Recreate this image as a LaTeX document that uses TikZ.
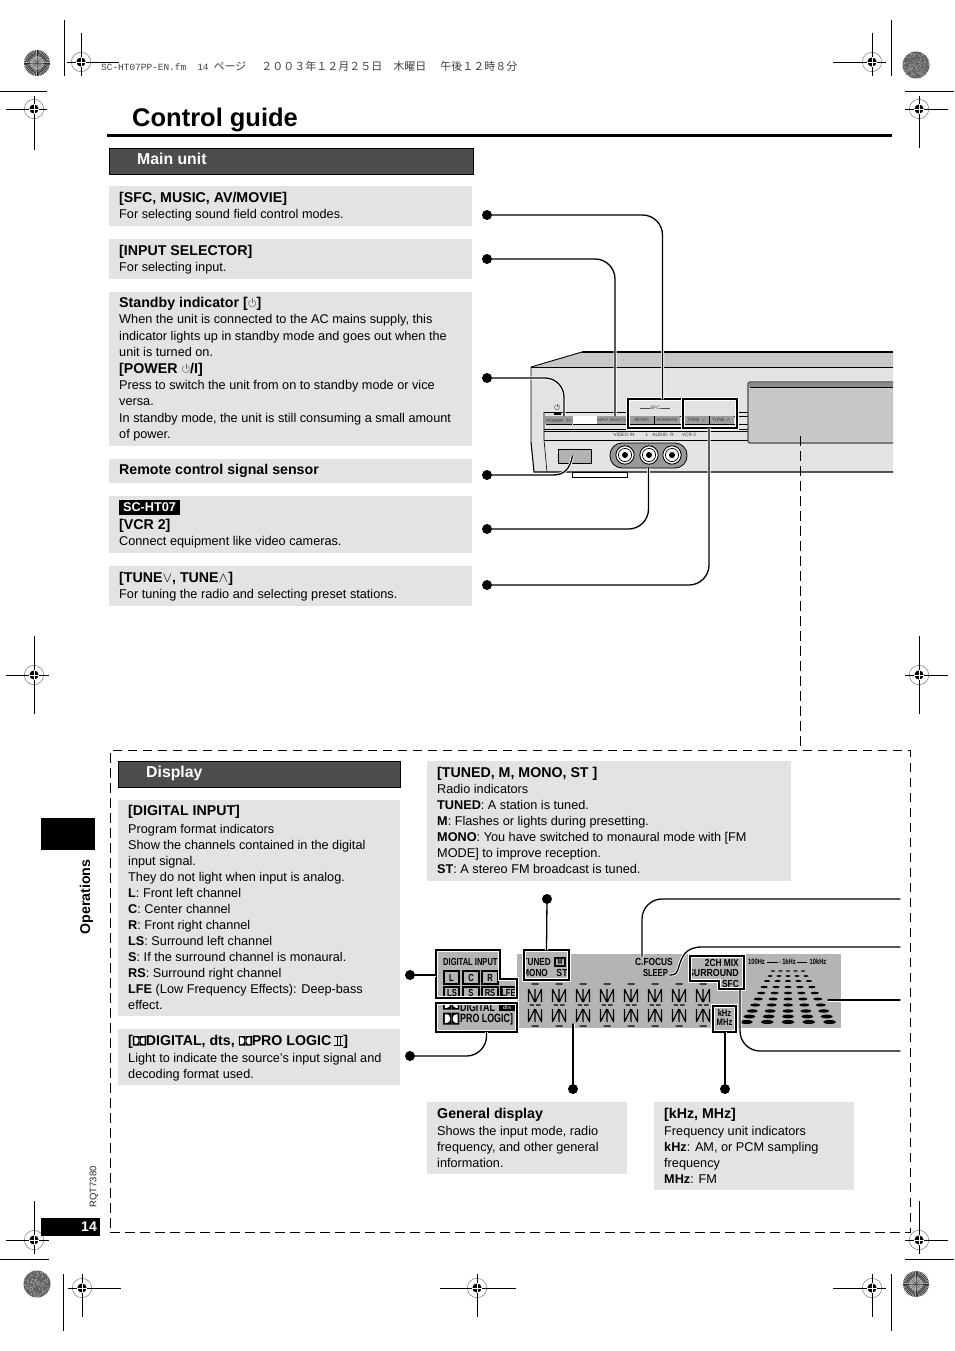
\documentclass[tikz,border=0pt]{standalone}
\usepackage{graphicx}
\usepackage{fontspec}
\setmainfont{Liberation Sans}
\newfontfamily\cjkf{Noto Sans CJK JP}
\newfontfamily\monof{Liberation Mono}
\usetikzlibrary{calc}
\definecolor{pan}{HTML}{E3E3E3}
\definecolor{hdr}{HTML}{4D4D4D}
\definecolor{lcd}{HTML}{B4B4B4}
\definecolor{dev}{HTML}{C8C8C8}
\newcommand\hd[1]{{\fontsize{14.2}{16}\selectfont\bfseries #1}}
\newcommand\cond[2][.74]{\scalebox{#1}[1]{\bfseries #2}}
\newcommand\pwr[1][1]{\begin{tikzpicture}[x=#1pt,y=#1pt,baseline=0pt]
  \draw[black!60,line width=.5pt] (3,7.2) arc[start angle=120,end angle=420,radius=3.6];
  \draw[black!60,line width=.5pt] (4.8,4) -- (4.8,9);
  \end{tikzpicture}}
\newcommand\dolby[1]{\begin{tikzpicture}[x=#1pt,y=#1pt,baseline=0pt]
  \fill[black] (0,0) rectangle (6.3,9.5) (6.8,0) rectangle (13,9.5);
  \fill[white] (1.4,1.3) -- (3,1.3) arc[start angle=-90,end angle=90,x radius=2.6,y radius=3.45] -- (1.4,8.2) -- cycle;
  \fill[white] (11.6,1.3) -- (10.2,1.3) arc[start angle=-90,end angle=-270,x radius=2.6,y radius=3.45] -- (11.6,8.2) -- cycle;
  \end{tikzpicture}}
\newcommand\twoii{\begin{tikzpicture}[x=1pt,y=1pt,baseline=0pt]
  \draw[line width=.5pt] (0,0) -- (9,0) (0,9) -- (9,9) (2.8,0) -- (2.8,9) (6.2,0) -- (6.2,9);
  \end{tikzpicture}}
\newcommand\mybox[6][]{\node[rbox,#1,minimum width={(#5)-(#3)},minimum height={(#6)-(#4)}] (#2) at ({((#3)+(#5))/2},{((#4)+(#6))/2}) {};}
\newcommand\regmark[6]{%
  \draw[black!55,line width=.5pt] (#1,#2) circle[radius=9.7];
  \fill[black] (#1,#2) circle[radius=4.6];
  \draw[black,line width=.9pt] (#3,#2) -- (#4,#2) (#1,#5) -- (#1,#6);
  \draw[white,line width=.6pt] ({#1-4.6},#2) -- ({#1+4.6},#2) (#1,{#2-4.6}) -- (#1,{#2+4.6});
}
\newcommand\burst[3]{%
  \fill[black!30] (#1,#2) circle[radius=#3];
  \foreach \a in {0,7.5,...,352.5} {\draw[black!85,line width=.55pt] ($(#1,#2)+(\a:7)$) -- ($(#1,#2)+(\a:#3)$);}
  \foreach \a in {0,22.5,...,337.5} {\draw[black!60,line width=.4pt] ($(#1,#2)+(\a:1)$) -- ($(#1,#2)+(\a:7)$);}
  \fill[black] (#1,#2) circle[radius=.8];
}
\newcommand\speck[3]{%
  \fill[black!62] (#1,#2) circle[radius=#3];
  \foreach \i in {1,...,170} {\pgfmathsetmacro\rr{(#3-.8)*sqrt(rnd)}\pgfmathsetmacro\tt{360*rnd}\fill[black!35] ($(#1,#2)+(\tt:\rr)$) circle[radius=.55];}
}
\newcommand\segdigit[1]{%
  \draw[black,line width=1.1pt] ({#1-3.5},984) -- ({#1+3.5},984)
    ({#1-6.5},989) -- ({#1-6.5},1002) ({#1-6.5},989) -- ({#1-.3},1002) ({#1},989) -- ({#1},1002) ({#1+6.5},989) -- ({#1+.3},1002) ({#1+6.5},989) -- ({#1+6.5},1002)
    ({#1-5.5},1005) -- ({#1-1},1005) ({#1+1},1005) -- ({#1+5.5},1005)
    ({#1-6.5},1009) -- ({#1-6.5},1022) ({#1-.3},1009) -- ({#1-6.5},1022) ({#1},1009) -- ({#1},1022) ({#1+.3},1009) -- ({#1+6.5},1022) ({#1+6.5},1009) -- ({#1+6.5},1022)
    ({#1-3.5},1026) -- ({#1+3.5},1026);
}
\tikzset{
  rbox/.style={inner sep=0pt,outer sep=0pt,rectangle},
  txt/.style={anchor=north west,inner sep=0pt,align=left,font=\fontsize{12.7}{16}\selectfont,execute at begin node={\rule{0pt}{12pt}}},
  ptxt/.style={txt,font=\fontsize{12.7}{16.4}\selectfont},
  panel/.style={fill=pan},
  hdrbar/.style={fill=hdr,draw=black,line width=.8pt},
  hdrt/.style={inner sep=0pt,anchor=west,text=white,font=\fontsize{15.8}{18}\selectfont\bfseries},
  dotn/.style={circle,fill=black,inner sep=0pt,minimum size=10pt},
  conn/.style={draw=black,line width=1.3pt,line cap=round,preaction={draw=white,line width=3pt}},
  hbox/.style={draw=black,line width=1.4pt,preaction={draw=white,line width=3.2pt}},
  devt/.style={inner sep=0pt,text=black!80,font=\fontsize{4.8}{5}\selectfont},
  btn/.style={fill=black!38,draw=none},
  lcdt/.style={inner sep=0pt,font=\fontsize{10.2}{11}\selectfont},
  cellbox/.style={draw=black,line width=1.6pt,fill=lcd}
}
\begin{document}
\begin{tikzpicture}[x=1pt,y=-1pt]
\useasboundingbox (0,0) rectangle (954,1351);
\fill[white] (0,0) rectangle (954,1351);

% crop marks
\draw[black,line width=.9pt] (64,20) -- (64,76) (891,20) -- (891,76)
  (0,91) -- (47,91) (905,91) -- (954,91)
  (0,1259) -- (49,1259) (905,1259) -- (954,1259)
  (63,1274) -- (63,1331) (891,1274) -- (891,1331);
\regmark{81}{62}{67}{119}{33}{76}
\regmark{872}{62}{833}{886}{33}{76}
\regmark{34}{109}{6}{47}{96}{150}
\regmark{919}{109}{905}{948}{96}{148}
\regmark{34}{675}{6}{49}{636}{714}
\regmark{919}{675}{905}{948}{636}{714}
\regmark{34}{1240}{6}{49}{1201}{1254}
\regmark{919}{1240}{905}{948}{1201}{1254}
\regmark{82}{1288}{68}{121}{1274}{1317}
\regmark{477}{1288}{440}{516}{1274}{1317}
\regmark{872}{1288}{833}{886}{1274}{1317}
\pgfmathsetseed{42}
\burst{37}{63}{13}
\speck{916}{65}{13.5}
\speck{37}{1284}{13.5}
\burst{916}{1284}{13}

% running header
\node[inner sep=0pt,anchor=base west,text=black!75] (runhead) at (101,71) {\fontsize{9.45}{11}\selectfont\monof SC-HT07PP-EN.fm\hspace{11pt}14\hspace{5pt}\fontsize{11}{11}\selectfont\cjkf ページ\hspace{15pt}２００３年１２月２５日\hspace{11pt}木曜日\hspace{14pt}午後１２時８分};

% title
\node[inner sep=0pt,anchor=base west,font=\fontsize{25.5}{28}\selectfont\bfseries] (title) at (132,127) {Control guide};
\draw[black,line width=3pt] (107,136) -- (892,136);

% Main unit column
\mybox[hdrbar]{mainbar}{109}{148}{473}{174}
\node[hdrt] (mainlab) at (137,158.5) {Main unit};
\mybox[panel]{b1}{109}{186}{472}{226}
\mybox[panel]{b2}{109}{239}{472}{279}
\mybox[panel]{b3}{109}{292}{472}{446}
\mybox[panel]{b4}{109}{459}{472}{483}
\mybox[panel]{b5}{109}{496}{472}{553}
\mybox[panel]{b6}{109}{566}{472}{606}
\node[txt] (t1) at (119,192) {\hd{[SFC, MUSIC, AV/MOVIE]}\\For selecting sound field control modes.};
\node[txt] (t2) at (119,245) {\hd{[INPUT SELECTOR]}\\For selecting input.};
\node[ptxt] (t3) at (119,297) {\hd{Standby indicator [\pwr]}\\When the unit is connected to the AC mains supply, this\\indicator lights up in standby mode and goes out when the\\unit is turned on.\\\hd{[POWER \pwr/I]}\\Press to switch the unit from on to standby mode or vice\\versa.\\In standby mode, the unit is still consuming a small amount\\of power.};
\node[txt] (t4) at (119,462) {\hd{Remote control signal sensor}};
\node[rbox,fill=black,text=white,font=\fontsize{12.7}{14}\selectfont\bfseries,minimum width=61pt,minimum height=15pt] (sc) at (149.5,507.5) {SC-HT07};
\node[txt] (t5) at (119,519) {\hd{[VCR 2]}\\Connect equipment like video cameras.};
\node[txt] (t6) at (119,572) {\hd{[TUNE$\vee$, TUNE$\wedge$]}\\For tuning the radio and selecting preset stations.};

% device
\begin{scope}
\clip (520,345) rectangle (893,480);
\fill[pan] (531,367) -- (893,367) -- (893,472) -- (534,472) -- (531,442) -- cycle;
\fill[dev] (531,367) -- (582,352) -- (893,352) -- (893,367) -- cycle;
\mybox[fill=white,draw=black,line width=.8pt]{foot}{572}{472}{627}{477}
\draw[black,line width=.9pt] (531,442) -- (531,367) -- (582,352);
\draw[black,line width=1.6pt] (582,352) -- (893,352);
\draw[black,line width=.8pt] (531,367) -- (893,367);
\draw[black,line width=1.1pt] (531,442) -- (534,472) -- (893,472);
\draw[black,line width=.6pt] (544,412) -- (544,440) -- (547,472);
\draw[black,line width=.6pt] (544,412) -- (628,412) (737,412) -- (748,412)
  (544,429) -- (748,429) (544,431) -- (748,431) (544,440) -- (748,440);
\draw[black,line width=.6pt] (573,416) -- (748,416) (573,424) -- (748,424);
\fill[white] (573,416.3) rectangle (600,423.7);
\fill[black] (554,412) rectangle (561,415);
\node[inner sep=0pt] (stbysym) at (557,407) {\pwr[.7]};
\node[rbox,btn,minimum width=28pt,minimum height=8pt,text=black!80,font=\fontsize{4.6}{5}\selectfont] (pwrbtn) at (559,420) {POWER \pwr[.45]/I};
\draw[black,line width=.6pt,rounded corners=1.5pt] (546,424.5) -- (572,424.5);
\node[rbox,btn,minimum width=27pt,minimum height=8pt,text=black!80,font=\fontsize{3.8}{5}\selectfont] (inbtn) at (613.5,420) {INPUT SELECTOR};
\node[rbox,btn,minimum width=24pt,minimum height=8pt,text=black!80,font=\fontsize{4.6}{5}\selectfont] (mus) at (642,420) {MUSIC};
\node[rbox,btn,minimum width=26pt,minimum height=8pt,text=black!80,font=\fontsize{4.4}{5}\selectfont] (avm) at (667,420) {AV/MOVIE};
\node[rbox,btn,minimum width=25pt,minimum height=8pt,text=black!80,font=\fontsize{4.6}{5}\selectfont] (tdn) at (696.5,420) {TUNE $\vee$};
\node[rbox,btn,minimum width=25pt,minimum height=8pt,text=black!80,font=\fontsize{4.6}{5}\selectfont] (tup) at (721.5,420) {TUNE $\wedge$};
\draw[black,line width=.6pt] (654,416) -- (654,424) (709,416) -- (709,424);
\node[devt] (sfclab) at (655,408) {SFC};
\draw[black!70,line width=.5pt] (640,408) -- (650,408) (660,408) -- (670,408);
\node[devt] (l1) at (624,435) {VIDEO IN};
\node[devt] (l2) at (647,435) {L};
\node[devt] (l3) at (660,435) {AUDIO};
\node[devt] (l4) at (672,435) {R};
\node[devt] (l5) at (689,435) {VCR 2};
\node[rbox,fill=black!30,draw=black,line width=.7pt,minimum width=33pt,minimum height=14pt] (sens) at (574.5,456) {};
\node[rbox,fill=black!40,draw=black,line width=.8pt,rounded corners=12pt,minimum width=77pt,minimum height=25pt] (pill) at (648.5,455.5) {};
\foreach \cx in {625,649,672}{
  \fill[white] (\cx,455) circle[radius=9.4];
  \draw[black,line width=.9pt] (\cx,455) circle[radius=9.2];
  \draw[black,line width=.7pt] (\cx,455) circle[radius=6.6];
  \fill[black] (\cx,455) circle[radius=3];
}
% display window
\node[rbox,fill=dev,draw=black!70,line width=1.2pt,rounded corners=2pt,minimum width=170pt,minimum height=61pt,anchor=west] (disp) at (748,412.5) {};
\fill[black!45] (749,383) rectangle (893,387);
\draw[black,line width=.7pt] (750,387) -- (893,387);
% button groups
\mybox[hbox]{sfc}{628}{399}{683}{428}
\mybox[hbox]{tune}{683}{399}{737}{428}
\end{scope}

% top connectors
\node[dotn] (d1) at (487,215) {};
\node[dotn] (d2) at (487,259) {};
\node[dotn] (d3) at (487,378) {};
\node[dotn] (d4) at (487,475) {};
\node[dotn] (d5) at (487,529) {};
\node[dotn] (d6) at (487,585) {};
\draw[conn,rounded corners=20pt] (d1) -| ([xshift=7pt]sfc.north);
\draw[conn,rounded corners=20pt] (d2) -| ([xshift=1.5pt]inbtn.north);
\draw[conn,rounded corners=19pt] (d3) -| ([xshift=5pt]pwrbtn.north);
\draw[conn] (d4) -- (553,475) .. controls (565,475) and (570,468) .. ([xshift=-2pt]sens.center);
\draw[conn,rounded corners=20pt] (d5) -| (pill.south);
\draw[conn,rounded corners=20pt] (d6) -| ([xshift=-1pt]tune.south);

% display frame
\coordinate (dashtop) at (800,436);
\mybox[draw=black,line width=.9pt,dash pattern=on 9.5pt off 5.5pt]{frame}{110}{750}{910}{1232}
\draw[black,line width=.9pt,dash pattern=on 9.5pt off 5.5pt] (dashtop) -- (dashtop |- frame.north);

% lower-left column
\mybox[hdrbar]{dispbar}{118}{761}{400}{787}
\node[hdrt] (displab) at (146,773) {Display};
\mybox[panel]{b7}{118}{800}{400}{1016}
\mybox[panel]{b8}{118}{1029}{400}{1085}
\mybox[panel]{b9}{427}{761}{791}{881}
\mybox[panel]{b10}{427}{1102}{627}{1174}
\mybox[panel]{b11}{654}{1102}{854}{1190}
\node[txt] (t7) at (128,805) {\hd{[DIGITAL INPUT]}\\[1.5pt]Program format indicators\\Show the channels contained in the digital\\input signal.\\They do not light when input is analog.\\\textbf{L}: Front left channel\\\textbf{C}: Center channel\\\textbf{R}: Front right channel\\\textbf{LS}: Surround left channel\\\textbf{S}: If the surround channel is monaural.\\\textbf{RS}: Surround right channel\\\textbf{LFE} (Low Frequency Effects): Deep-bass\\effect.};
\node[txt] (t8) at (128,1035) {\hd{[\dolby{1}DIGITAL, dts, \dolby{1}PRO LOGIC\,\twoii]}\\[1pt]Light to indicate the source’s input signal and\\decoding format used.};
\node[txt] (t9) at (437,767) {\hd{[TUNED, M, MONO, ST ]}\\Radio indicators\\\textbf{TUNED}: A station is tuned.\\\textbf{M}: Flashes or lights during presetting.\\\textbf{MONO}: You have switched to monaural mode with [FM\\MODE] to improve reception.\\\textbf{ST}: A stereo FM broadcast is tuned.};
\node[txt] (t10) at (437,1108) {\hd{General display}\\[1pt]Shows the input mode, radio\\frequency, and other general\\information.};
\node[txt] (t11) at (664,1108) {\hd{[kHz, MHz]}\\[1pt]Frequency unit indicators\\\textbf{kHz}: AM, or PCM sampling\\frequency\\\textbf{MHz}: FM};

% side tabs
\mybox[fill=black]{tab}{41}{818}{95}{850}
\node[inner sep=0pt,rotate=90,font=\fontsize{14.2}{16}\selectfont\bfseries] (oper) at (86.5,897) {Operations};
\node[inner sep=0pt,rotate=90,font=\fontsize{9.5}{11}\selectfont,text=black!85] (rqt) at (94,1187) {RQT7380};
\mybox[fill=black]{pgbox}{41}{1218}{100}{1236}
\node[inner sep=0pt,anchor=east,text=white,font=\fontsize{14}{15}\selectfont\bfseries] (pg) at (97,1227) {14};

% LCD panel
\fill[lcd] (517,954) rectangle (841,1028);
\foreach \cx in {535,559,583,607,631,655,679,703}{\segdigit{\cx}}
% eq dots
\foreach \yy [count=\i from 0] in {971,976,981,987,993,999,1005,1011,1016.5,1022}{
  \pgfmathsetmacro\tf{\i/9}
  \pgfmathsetmacro\sp{7.5+13.3*\tf}
  \pgfmathsetmacro\xr{2.2+4.3*\tf}
  \pgfmathsetmacro\yr{.7+1.3*\tf}
  \foreach \k in {-2,-1,0,1,2}{\fill[black] ({788+\k*\sp},\yy) ellipse[x radius=\xr,y radius=\yr];}
}
\node[lcdt,font=\fontsize{7.8}{9}\selectfont] (hz1) at (756.5,962) {\cond{100Hz}};
\node[lcdt,font=\fontsize{7.8}{9}\selectfont] (hz2) at (789,962) {\cond{1kHz}};
\node[lcdt,font=\fontsize{7.8}{9}\selectfont] (hz3) at (818,962) {\cond{10kHz}};
\draw[black,line width=1pt] (767,962) -- (778,962) (797,962) -- (807,962);
\fill[black] (780,962) circle[radius=.7];
\node[lcdt,anchor=east] (cf) at (673,962) {\cond[.82]{C.FOCUS}};
\node[lcdt,anchor=east] (sl) at (668,973) {\cond{SLEEP}};

% digital input group
\node[rbox,minimum width=81pt,minimum height=48pt] (digbox) at (476.5,974) {};
\path[fill=lcd] (436,950) -- (500,950) -- (500,979) -- (517,979) -- (517,998) -- (436,998) -- cycle;
\begin{scope}
\clip (436,950) -- (500,950) -- (500,979) -- (517,979) -- (517,998) -- (436,998) -- cycle;
\node[lcdt,anchor=west] (dil) at (443,962) {\cond{DIGITAL INPUT}};
\mybox[cellbox]{cL}{444}{971}{459}{984}
\mybox[cellbox]{cC}{463}{971}{479}{984}
\mybox[cellbox]{cR}{482}{971}{498}{984}
\mybox[cellbox]{cLS}{444}{987}{459}{1002}
\mybox[cellbox]{cS}{463}{987}{479}{1002}
\mybox[cellbox]{cRS}{482}{987}{498}{1002}
\mybox[cellbox]{cLFE}{501}{987}{517}{1002}
\node[lcdt] (lL) at (cL) {\cond{L}};
\node[lcdt] (lC) at (cC) {\cond{C}};
\node[lcdt] (lR) at (cR) {\cond{R}};
\node[lcdt] (lLS) at (452,993) {\cond{LS}};
\node[lcdt] (lS) at (471,993) {\cond{S}};
\node[lcdt] (lRS) at (490,993) {\cond{RS}};
\node[lcdt] (lLFE) at (508.5,993) {\cond{LFE}};
\end{scope}
\path[hbox] (436,950) -- (500,950) -- (500,979) -- (517,979) -- (517,998) -- (436,998) -- cycle;

% dolby group
\mybox[fill=lcd]{dolbox}{436}{1003}{517}{1032}
\begin{scope}
\clip (436,1003) rectangle (517,1032);
\node[inner sep=0pt,anchor=base west] (dd1) at (443,1009.5) {\dolby{1.25}};
\node[lcdt,anchor=west,font=\fontsize{12}{13}\selectfont] (dig) at (460,1007.5) {\cond[.74]{DIGITAL}};
\node[rbox,fill=black,text=lcd,font=\fontsize{5.5}{6}\selectfont\bfseries,minimum width=16pt,minimum height=6pt] (dts) at (507,1008) {dts};
\node[inner sep=0pt,anchor=base west] (dd2) at (443,1024.5) {\dolby{1.25}};
\node[lcdt,anchor=west,font=\fontsize{12}{13}\selectfont] (pl) at (460,1019.5) {\cond[.74]{PRO LOGIC]}};
\end{scope}
\draw[hbox] (436,1003) rectangle (517,1032);

% tuned group
\mybox[fill=lcd]{tunedbox}{524}{950}{569}{980}
\begin{scope}
\clip (524,950) rectangle (569,980);
\node[lcdt,anchor=east] (tun) at (551,962) {\cond[.8]{TUNED}};
\node[lcdt,anchor=east] (mon) at (548,973) {\cond[.8]{MONO}};
\node[rbox,draw=black,line width=1.4pt,minimum width=10pt,minimum height=8pt,font=\fontsize{8}{9}\selectfont\bfseries] (mm) at (560,962) {\cond{M}};
\node[lcdt] (st) at (562,973) {\cond[.85]{ST}};
\end{scope}
\draw[hbox] (524,950) rectangle (569,980);

% 2CH group
\path[fill=lcd] (690,956) -- (744,956) -- (744,989) -- (719,989) -- (719,981) -- (690,981) -- cycle;
\begin{scope}
\clip (690,956) -- (744,956) -- (744,989) -- (719,989) -- (719,981) -- (690,981) -- cycle;
\node[lcdt,anchor=east] (c2) at (739,963) {\cond[.82]{2CH MIX}};
\node[lcdt,anchor=east] (su) at (739,973) {\cond[.86]{SURROUND}};
\node[lcdt,anchor=east] (sf) at (739,984) {\cond[.82]{SFC}};
\end{scope}
\draw[hbox] (690,956) -- (744,956) -- (744,989) -- (719,989) -- (719,981) -- (690,981) -- cycle;

% kHz group
\mybox[fill=lcd]{khzbox}{713}{1006}{736}{1032}
\node[lcdt,font=\fontsize{9.5}{10}\selectfont] (kh) at (724.5,1013) {\cond[.8]{kHz}};
\node[lcdt,font=\fontsize{9.5}{10}\selectfont] (mh) at (724.5,1022.5) {\cond[.8]{MHz}};
\draw[hbox] (713,1006) rectangle (736,1032);

% lower connectors
\node[dotn] (d7) at (547,899) {};
\node[dotn] (d8) at (410,975) {};
\node[dotn] (d9) at (410,1056) {};
\node[dotn] (d10) at (573,1089) {};
\node[dotn] (d11) at (725,1089) {};
\coordinate (e1) at (900,899);
\coordinate (e2) at (900,947);
\coordinate (e3) at (900,1000);
\coordinate (e4) at (900,1051);
\coordinate (cfpt) at (642,956);
\coordinate (slpt) at (670,975);
\coordinate (eqpt) at (828,1000);
\coordinate (sfcpt) at (740,990);
\coordinate (genpt) at (573,1024);
\draw[conn] (d7) -- (tunedbox.north);
\draw[conn] (d8) -- (d8 -| digbox.west);
\draw[conn,rounded corners=20pt] (d9) -| ([xshift=10pt]dolbox.south);
\draw[conn] (d10) -- (genpt);
\draw[conn] (d11) -- (d11 |- khzbox.south);
\draw[conn,rounded corners=20pt] (e1) -| (cfpt);
\draw[conn] (e2) -- (702,947) .. controls (685,947) and (682,957) .. (679,966) .. controls (677,974) and (675,975) .. (slpt);
\draw[conn] (e3) -- (eqpt);
\draw[conn,rounded corners=20pt] (e4) -| (sfcpt);
\end{tikzpicture}
\end{document}
